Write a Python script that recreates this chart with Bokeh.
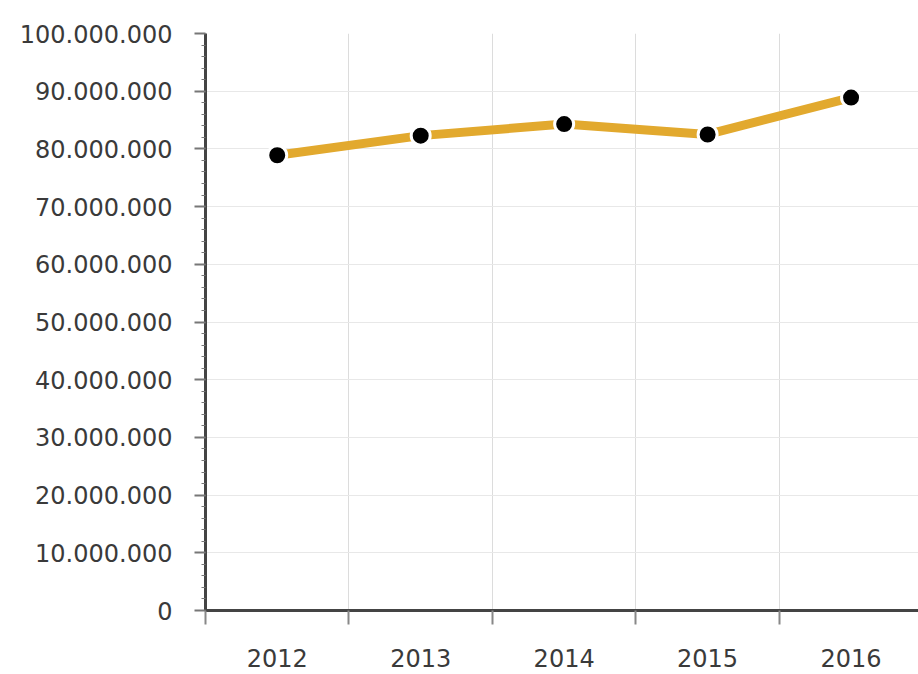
from bokeh.plotting import figure
from bokeh.models import Range1d, FixedTicker, ColumnDataSource
from bokeh.embed import file_html
from bokeh.resources import INLINE

years = ["2012", "2013", "2014", "2015", "2016"]
values = [78900000, 82300000, 84300000, 82500000, 88900000]
y_ticks = [0, 10000000, 20000000, 30000000, 40000000, 50000000,
           60000000, 70000000, 80000000, 90000000, 100000000]
y_minor = list(range(0, 100000001, 2000000))

x_pos = [i + 0.5 for i in range(len(years))]
src = ColumnDataSource(dict(x=x_pos, y=values))

p = figure(width=918, height=674, output_backend="svg", toolbar_location=None,
           x_range=Range1d(0, 4.97), y_range=Range1d(0, 100000000),
           min_border_left=205, min_border_right=0, min_border_top=33,
           min_border_bottom=64)
p.outline_line_color = None
p.background_fill_color = "white"

FONT = "DejaVu Sans"
TXT = "#3a3a3a"
AX = "#444444"

# x axis: labels at category centres, ticks at boundaries
p.xaxis.ticker = FixedTicker(ticks=x_pos, minor_ticks=list(range(len(years) + 1)))
p.xaxis.major_label_overrides = {x: y for x, y in zip(x_pos, years)}
p.xaxis.major_tick_line_color = None
p.xaxis.major_tick_out = 0
p.xaxis.major_tick_in = 0
p.xaxis.minor_tick_line_color = "#888888"
p.xaxis.minor_tick_line_width = 2
p.xaxis.minor_tick_out = 14
p.xaxis.minor_tick_in = 0
p.xaxis.axis_line_color = AX
p.xaxis.axis_line_width = 3
p.xaxis.major_label_text_font = FONT
p.xaxis.major_label_text_font_size = "24px"
p.xaxis.major_label_text_color = TXT
p.xaxis.major_label_standoff = 24

# y axis
p.yaxis.ticker = FixedTicker(ticks=y_ticks, minor_ticks=y_minor)
p.yaxis.major_label_overrides = {t: f"{t:,}".replace(",", ".") for t in y_ticks}
p.yaxis.axis_line_color = AX
p.yaxis.axis_line_width = 3
p.yaxis.major_tick_line_color = "#777777"
p.yaxis.major_tick_line_width = 2
p.yaxis.major_tick_out = 11
p.yaxis.major_tick_in = 0
p.yaxis.minor_tick_line_color = "#777777"
p.yaxis.minor_tick_out = 4
p.yaxis.minor_tick_in = 0
p.yaxis.major_label_text_font = FONT
p.yaxis.major_label_text_font_size = "24px"
p.yaxis.major_label_text_color = TXT
p.yaxis.major_label_standoff = 22

# grids
p.xgrid.ticker = FixedTicker(ticks=list(range(1, len(years))))
p.xgrid.grid_line_color = "#dcdcdc"
p.xgrid.grid_line_width = 1
p.ygrid.ticker = FixedTicker(ticks=y_ticks)
p.ygrid.grid_line_color = "#e8e8e8"
p.ygrid.grid_line_width = 1

p.line("x", "y", source=src, line_color="#E2A92E", line_width=9)
p.scatter("x", "y", source=src, size=19, fill_color="black",
          line_color="white", line_width=3)

open("out.html", "w").write(file_html(p, INLINE))
